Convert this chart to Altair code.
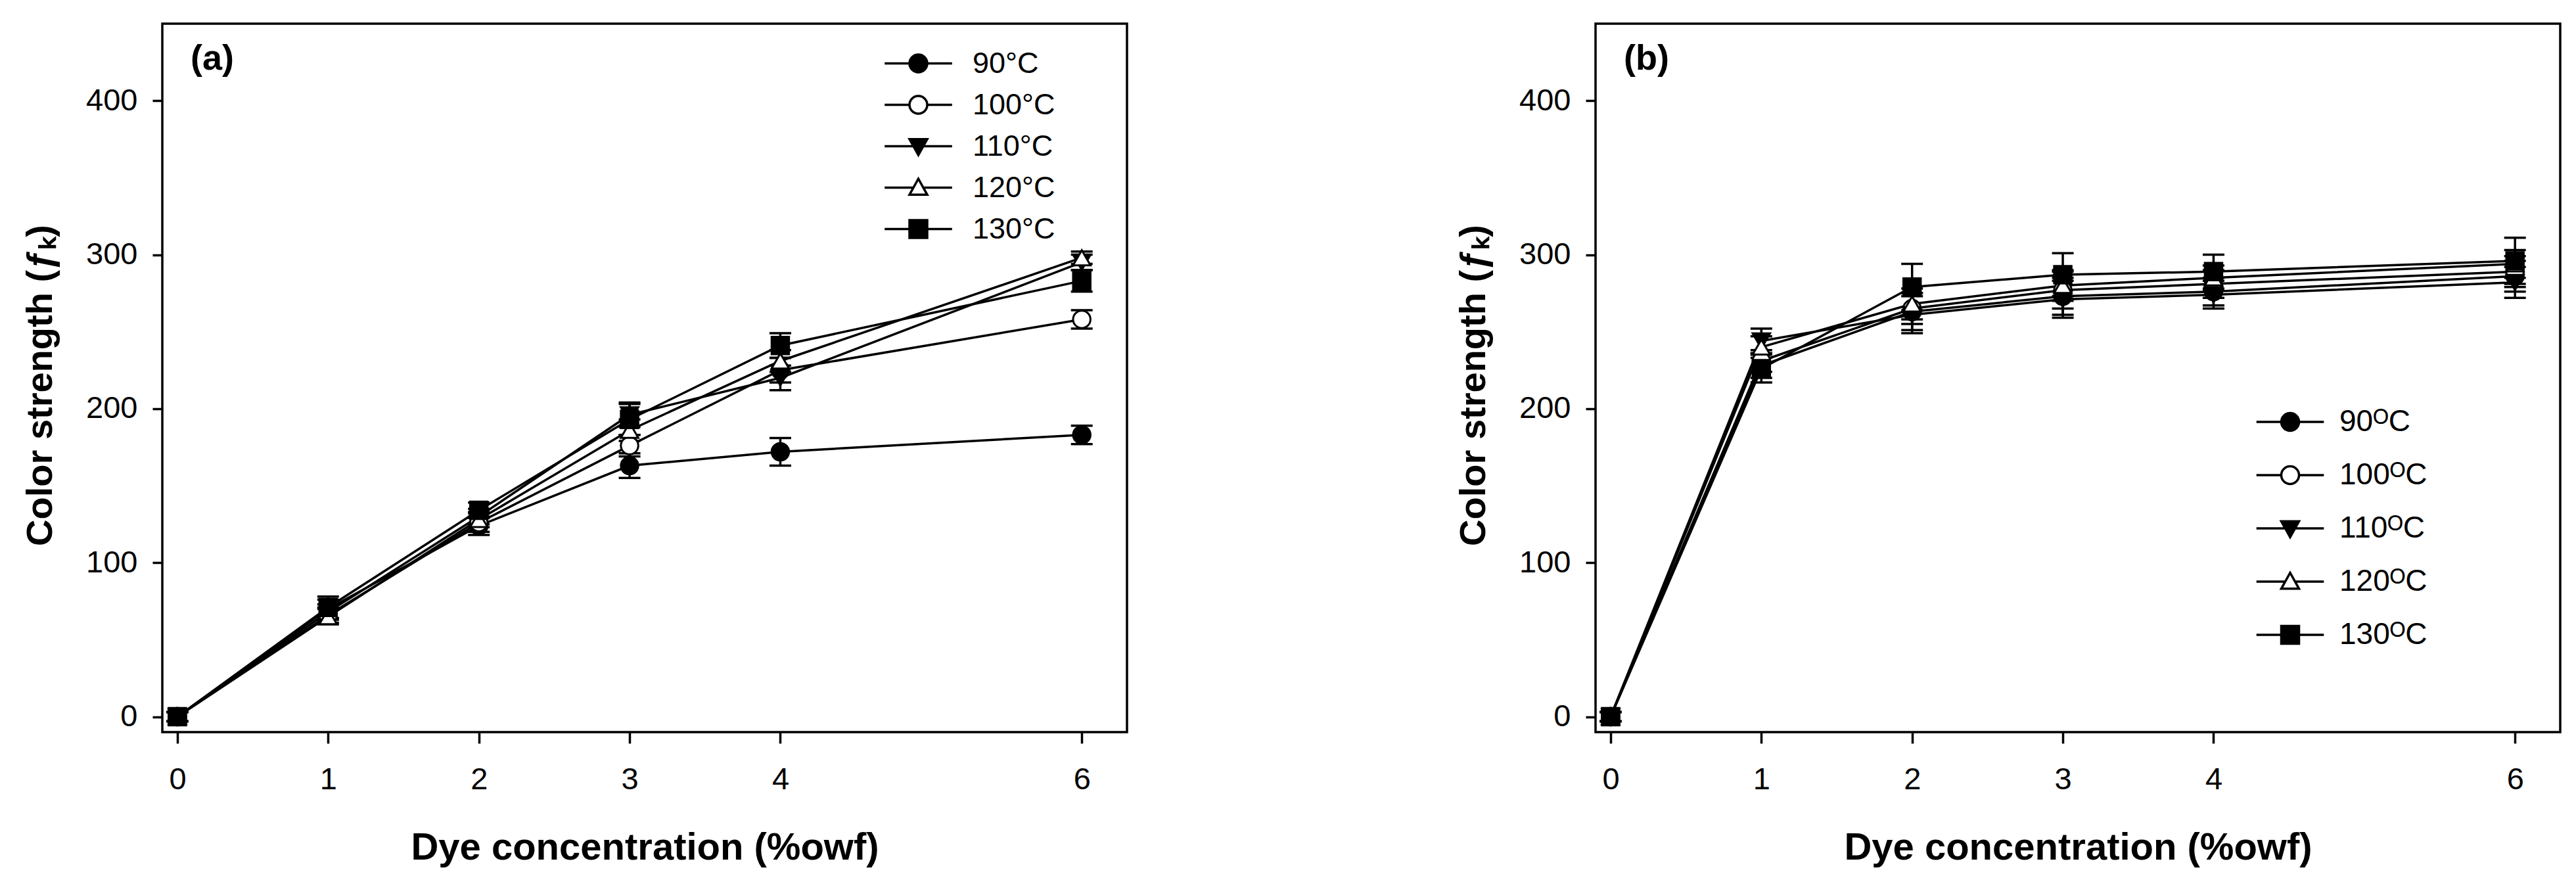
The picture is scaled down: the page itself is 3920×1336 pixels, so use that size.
import altair as alt
import pandas as pd

# ---------------- data ----------------
conc = [0, 1, 2, 3, 4, 6]
temps = [90, 100, 110, 120, 130]
labels_a = ["90°C", "100°C", "110°C", "120°C", "130°C"]
labels_b = ["90ᴼC", "100ᴼC", "110ᴼC", "120ᴼC", "130ᴼC"]
y_ticks = [0, 100, 200, 300, 400]

# panel (a)
a_90 = [0, 70, 124, 163, 172, 183]
a_100 = [0, 66, 126, 176, 225, 258]
a_110 = [0, 68, 130, 196, 220, 295]
a_120 = [0, 65, 128, 186, 231, 298]
a_130 = [0, 71, 134, 193, 241, 283]
a_err_90 = [3, 6, 6, 8, 9, 6]
a_err_100 = [3, 5, 6, 7, 8, 6]
a_err_110 = [3, 5, 5, 8, 8, 5]
a_err_120 = [3, 5, 5, 7, 7, 4]
a_err_130 = [3, 7, 5, 10, 8, 7]

# panel (b)
b_90 = [0, 228, 263, 273, 276, 286]
b_100 = [0, 231, 265, 277, 281, 289]
b_110 = [0, 244, 261, 271, 274, 282]
b_120 = [0, 240, 268, 280, 285, 294]
b_130 = [0, 226, 279, 287, 289, 296]
b_err_90 = [3, 8, 12, 12, 9, 10]
b_err_100 = [3, 7, 10, 12, 9, 10]
b_err_110 = [3, 8, 12, 12, 9, 10]
b_err_120 = [3, 7, 10, 10, 8, 9]
b_err_130 = [3, 9, 15, 14, 11, 15]

point_shapes = ["circle", "circle", "triangle-down", "triangle-up", "square"]
point_fills = ["black", "white", "black", "white", "black"]
legend_paths = [
    "M-3.8,0H-1M1,0H3.8M1,0A1,1,0,1,1,-1,0A1,1,0,1,1,1,0Z",
    "M-3.8,0H-1M1,0H3.8M1,0A1,1,0,1,1,-1,0A1,1,0,1,1,1,0Z",
    "M-3.8,0H-0.55M0.55,0H3.8M-1,-0.8L1,-0.8L0,1Z",
    "M-3.8,0H-0.55M0.55,0H3.8M0,-1L1,0.8L-1,0.8Z",
    "M-3.8,0H-1M1,0H3.8M-1,-1H1V1H-1Z",
]


def build_df(series, errs, labels):
    rows = []
    for t, lab, vals, ee in zip(temps, labels, series, errs):
        for c, v, e in zip(conc, vals, ee):
            rows.append({"conc": c, "temp": t, "lab": lab, "val": v,
                         "lo": v - e, "hi": v + e})
    return pd.DataFrame(rows)


df_a = build_df([a_90, a_100, a_110, a_120, a_130],
                [a_err_90, a_err_100, a_err_110, a_err_120, a_err_130], labels_a)
df_b = build_df([b_90, b_100, b_110, b_120, b_130],
                [b_err_90, b_err_100, b_err_110, b_err_120, b_err_130], labels_b)

FONT = "Liberation Sans"
W, H = 1468, 1078
XT = "Dye concentration (%owf)"
YT = "Color strength (ƒₖ)"

x_axis = alt.Axis(values=conc, format="d", tickSize=17, tickWidth=3.5, tickColor="black",
                  domain=False, grid=False, labelFontSize=47, labelFont=FONT,
                  labelColor="black", labelPadding=32, labelFlush=False,
                  title=XT, titleFont=FONT, titleFontSize=58,
                  titleFontWeight="bold", titleColor="black", titleY=193,
                  titleBaseline="alphabetic")
y_axis = alt.Axis(values=y_ticks, format="d", tickSize=15, tickWidth=3.5, tickColor="black",
                  domain=False, grid=False, labelFontSize=47, labelFont=FONT,
                  labelColor="black", labelPadding=23,
                  title=YT, titleFont=FONT,
                  titleFontSize=56, titleFontWeight="bold", titleColor="black",
                  titleX=-157, titleY=550)

x_scale = alt.Scale(domain=[-0.1, 6.3], nice=False, zero=False)
y_scale = alt.Scale(domain=[-10, 450], nice=False, zero=False)


def panel(df, labels, tag, lx, ly, row_pad, lab_off, lab_size):
    base = alt.Chart(df)
    X = alt.X("conc:Q", scale=x_scale, axis=x_axis, title=XT)
    Yv = alt.Y("val:Q", scale=y_scale, axis=y_axis, title=YT)
    Ylo = alt.Y("lo:Q", scale=y_scale, axis=y_axis, title=YT)
    Yhi = alt.Y("hi:Q", scale=y_scale, axis=y_axis, title=YT)

    lines = base.mark_line(color="black", strokeWidth=3.5).encode(
        x=X, y=Yv, detail="temp:N")
    rules = base.mark_rule(color="black", strokeWidth=3.5).encode(
        x=X, y=Ylo, y2="hi:Q")
    cap_lo = base.mark_tick(orient="horizontal", size=33, thickness=3.5,
                            color="black", opacity=1).encode(x=X, y=Ylo)
    cap_hi = base.mark_tick(orient="horizontal", size=33, thickness=3.5,
                            color="black", opacity=1).encode(x=X, y=Yhi)
    point_layers = []
    for t, shp, fl in zip(temps, point_shapes, point_fills):
        point_layers.append(
            base.transform_filter(alt.datum.temp == t).mark_point(
                shape=shp, filled=True, fill=fl, stroke="black", strokeWidth=3,
                size=700, opacity=1).encode(x=X, y=Yv)
        )
    leg = alt.Legend(title=None, orient="none", legendX=lx, legendY=ly, padding=0,
                     labelFont=FONT, labelFontSize=lab_size, labelColor="black",
                     labelOffset=lab_off, labelLimit=400, rowPadding=row_pad,
                     symbolSize=729, symbolStrokeWidth=3.5,
                     symbolOpacity=1)
    legend_layer = base.mark_point(filled=True, size=729, strokeWidth=3.5,
                                   opacity=0).encode(
        x=X, y=Yv,
        shape=alt.Shape("lab:N", scale=alt.Scale(domain=labels, range=legend_paths),
                        legend=leg),
        fill=alt.Fill("lab:N", scale=alt.Scale(domain=labels, range=point_fills),
                      legend=leg),
        stroke=alt.Stroke("lab:N", scale=alt.Scale(domain=labels, range=["black"] * 5),
                          legend=leg),
    )
    return alt.layer(lines, rules, cap_lo, cap_hi, *point_layers, legend_layer).properties(
        width=W, height=H,
        title=alt.TitleParams(text=tag, anchor="start", frame="group", orient="top",
                              font=FONT, fontSize=54, fontWeight="bold", color="black",
                              baseline="alphabetic", offset=0, dx=43, dy=124),
    )


pa = panel(df_a, labels_a, "(a)", 1128, 38, 17, 60, 45)
pb = panel(df_b, labels_b, "(b)", 1034, 583, 35, 52, 46)

chart = alt.hconcat(pa, pb, spacing=495).resolve_scale(
    shape="independent", fill="independent", stroke="independent"
).resolve_legend(shape="independent", fill="independent", stroke="independent").properties(
    padding={"left": 23, "top": 26, "right": 10, "bottom": 10},
    background="white",
).configure_view(stroke="black", strokeWidth=3.5)

chart.save("out.html", embed_options={"renderer": "svg", "actions": False})
